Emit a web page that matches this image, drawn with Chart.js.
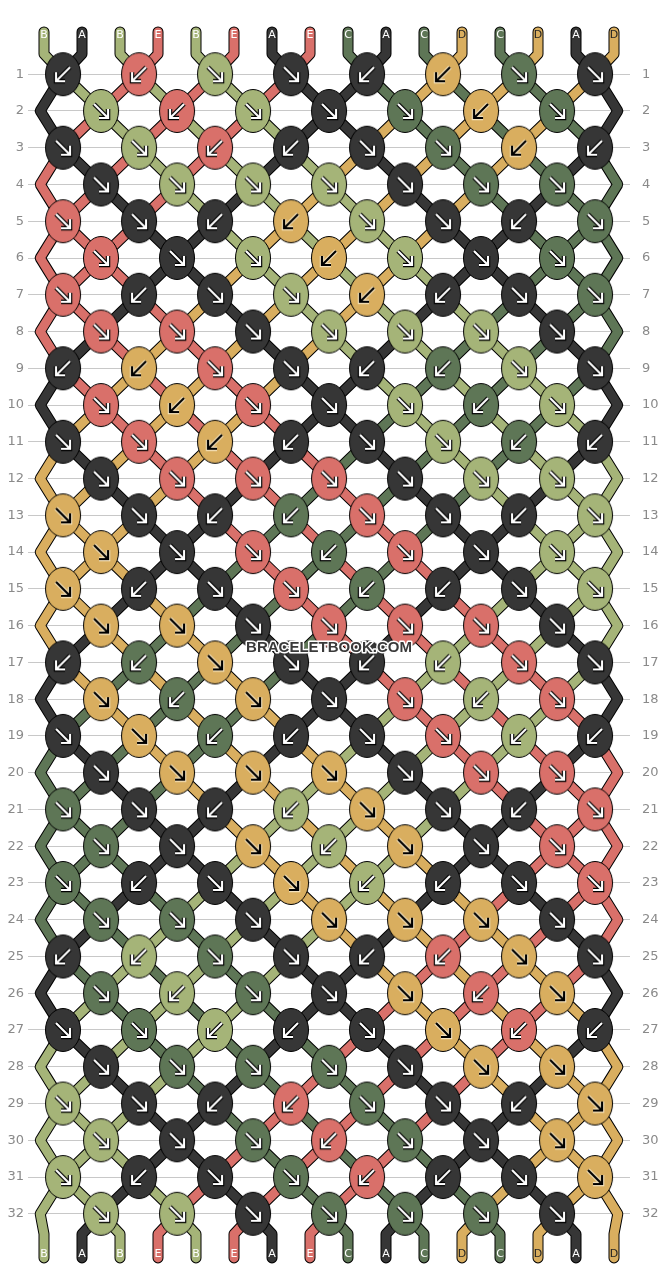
<!DOCTYPE html>
<html><head><meta charset="utf-8">
<script src="https://cdn.jsdelivr.net/npm/chart.js@4"></script>
<style>html,body{margin:0;padding:0;background:#fff}#wrap{width:658px;height:1288px}</style>
</head><body><div id="wrap"><canvas id="c"></canvas></div>
<script>
const topStrings = ['B','A','B','E','B','E','A','E','C','A','C','D','C','D','A','D'];
const rowLabels = Array.from({length:32},(_,i)=>i+1);
const knotColors = ["AEBAADCA","BEBACDC","ABEAACDA","ABBBACC","EAADBAAC","EABDBAC","EAABDAAC","EEABBBA",
"ADEAACBA","EDEABCB","AEDAABCA","AEEEABB","DAACEAAB","DAECEAB","DAAECAAB","DDAEEEA",
"ACDAABEA","DCDAEBE","ADCAAEBA","ADDDAEE","CAABDAAE","CADBDAE","CAADBAAE","CCADDDA",
"ABCAAEDA","CBCADED","ACBAADEA","ACCCADD","BAAECAAD","BACECAD","BAACEAAD","BBACCCA"];
const knotDirs = ["LLRRLLRR","RLRRRLR","RRLLRRLL","RRRRRRR","RRLLRRLR","RRRLRRR","RLRRLLRR","RRRRRRR",
"LLRRLLRR","RLRRRLR","RRLLRRLL","RRRRRRR","RRLLRRLR","RRRLRRR","RLRRLLRR","RRRRRRR",
"LLRRLLRR","RLRRRLR","RRLLRRLL","RRRRRRR","RRLLRRLR","RRRLRRR","RLRRLLRR","RRRRRRR",
"LLRRLLRR","RLRRRLR","RRLLRRLL","RRRRRRR","RRLLRRLR","RRRLRRR","RLRRLLRR","RRRRRRR"];
const palette = {A:'#363636',B:'#a5b478',C:'#5e7656',D:'#d9ae5f',E:'#d9706a'};

const paths = topStrings.map((s,p)=>({color:s,pts:[{x:p+0.5,y:-0.15},{x:p+0.5,y:0.45}]}));
let pos = topStrings.map((s,i)=>i);
for(let r=1;r<=32;r++){
  const odd = r%2===1;
  const np = pos.slice();
  if(odd){
    for(let i=0;i<8;i++){const a=pos[2*i],b=pos[2*i+1];
      paths[a].pts.push({x:2*i+1,y:r});paths[b].pts.push({x:2*i+1,y:r});np[2*i]=b;np[2*i+1]=a;}
  } else {
    paths[pos[0]].pts.push({x:0.4,y:r});paths[pos[15]].pts.push({x:15.6,y:r});
    for(let j=0;j<7;j++){const a=pos[2*j+1],b=pos[2*j+2];
      paths[a].pts.push({x:2*j+2,y:r});paths[b].pts.push({x:2*j+2,y:r});np[2*j+1]=b;np[2*j+2]=a;}
  }
  pos=np;
}
pos.forEach((s,p)=>{paths[s].pts.push({x:p+0.5,y:32.55},{x:p+0.5,y:33.2});});
const bottomStrings = pos.map(s=>topStrings[s]);

function knotImg(col,dir){
  const c=document.createElement('canvas');c.width=38;c.height=46;const g=c.getContext('2d');
  g.beginPath();g.ellipse(19,23,17.5,21.5,0,0,Math.PI*2);g.fillStyle=palette[col];g.fill();
  g.lineWidth=1;g.strokeStyle='#000';g.stroke();
  const s=dir==='R'?1:-1;
  const main=col==='D'?'#000':'#fff', out=col==='D'?'#f4e2bd':'#000';
  function arrow(color,w){
    g.strokeStyle=color;g.lineWidth=w;g.lineCap='butt';g.lineJoin='miter';
    g.beginPath();g.moveTo(19-7*s,16);g.lineTo(19+6*s,29);g.stroke();
    g.beginPath();g.moveTo(19+7*s,21);g.lineTo(19+7*s,30);g.lineTo(19-2*s,30);g.stroke();
  }
  arrow(out,4.5);arrow(main,2.2);
  return c;
}
const imgs={};for(const k in palette){imgs[k+'L']=knotImg(k,'L');imgs[k+'R']=knotImg(k,'R');}

const knotPts=[],knotStyles=[];
knotColors.forEach((row,ri)=>{const r=ri+1;[...row].forEach((c,i)=>{
  const x=r%2?2*i+1:2*i+2;knotPts.push({x,y:r});knotStyles.push(imgs[c+knotDirs[ri][i]]);});});

const datasets=[{type:'scatter',data:knotPts,pointStyle:knotStyles,pointRadius:20,order:1}];
paths.forEach(p=>{
  datasets.push({type:'line',data:p.pts,borderColor:palette[p.color],borderWidth:9,pointRadius:0,borderCapStyle:'round',borderJoinStyle:'round',order:2});
});
paths.forEach(p=>{
  datasets.push({type:'line',data:p.pts,borderColor:'#000',borderWidth:11,pointRadius:0,borderCapStyle:'round',borderJoinStyle:'round',order:3});
});

const labelPlugin={id:'lbl',afterDatasetsDraw(ch){
  const g=ch.ctx,xs=ch.scales.x,ys=ch.scales.y;
  g.save();g.font='11px "DejaVu Sans"';g.textAlign='center';g.textBaseline='middle';
  topStrings.forEach((s,p)=>{g.fillStyle=s==='D'?'#222':'#fff';g.fillText(s,xs.getPixelForValue(p+0.5),ys.getPixelForValue(-0.05));});
  bottomStrings.forEach((s,p)=>{g.fillStyle=s==='D'?'#222':'#fff';g.fillText(s,xs.getPixelForValue(p+0.5),ys.getPixelForValue(33.1));});
  g.font='bold 15px "Liberation Sans"';g.lineWidth=3;g.strokeStyle='#fff';g.lineJoin='round';
  const wx=xs.getPixelForValue(8),wy=ys.getPixelForValue(16.6);
  g.strokeText('BRACELETBOOK.COM',wx,wy);g.fillStyle='#3a3a3a';g.fillText('BRACELETBOOK.COM',wx,wy);
  g.restore();
}};

const yCommon={type:'linear',reverse:true,min:-0.447,max:33.447,
  afterBuildTicks(s){s.ticks=rowLabels.map(v=>({value:v}));},
  afterFit(s){s.width=28;},
  ticks:{color:'#8a8a8a',font:{size:13,family:'"DejaVu Sans"'},padding:4,autoSkip:false},
  border:{display:false}};
new Chart(document.getElementById('c'),{
  data:{datasets},
  options:{responsive:true,maintainAspectRatio:false,animation:false,
    layout:{padding:0},
    plugins:{legend:{display:false},tooltip:{enabled:false}},
    scales:{
      x:{type:'linear',min:0.0789,max:15.921,display:false},
      y:Object.assign({},yCommon,{position:'left',grid:{color:'#c8c8c8',drawTicks:false,lineWidth:1}}),
      y2:Object.assign({},yCommon,{position:'right',grid:{display:false}})
    }},
  plugins:[labelPlugin]
});
</script></body></html>
